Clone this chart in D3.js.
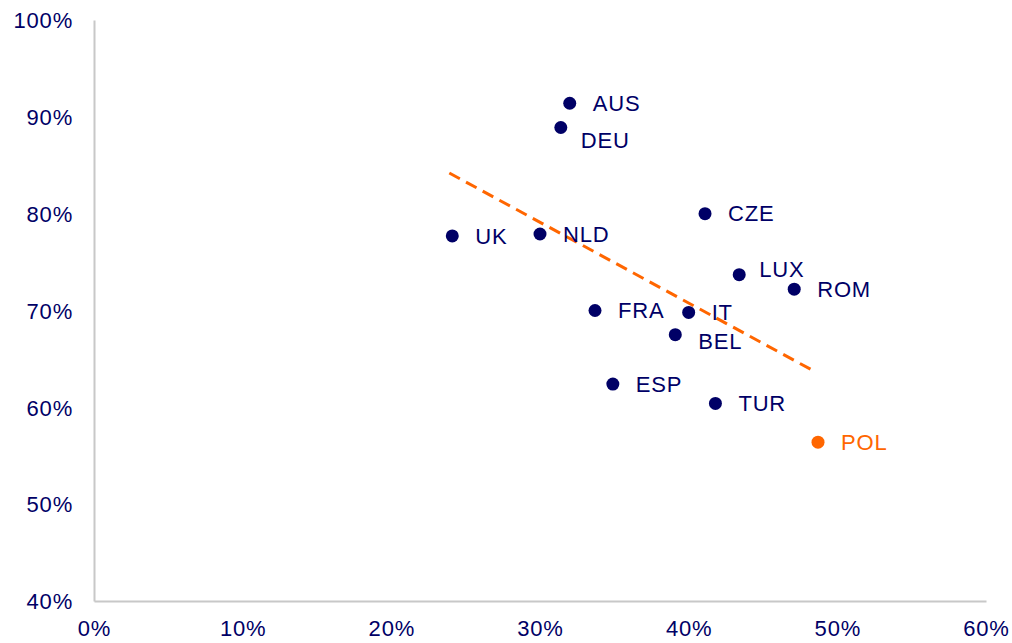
<!DOCTYPE html>
<html>
<head>
<meta charset="utf-8" />
<title>scatter</title>
<script src="https://cdn.jsdelivr.net/npm/d3@7"></script>
<style>
  body { margin: 0; background: #fff; overflow: hidden; }
  text { font-family: "Liberation Sans", Arial, sans-serif; }
</style>
</head>
<body>
<div id="chart"></div>
<script>
// countries, x and y values (shares, in %)
var countries = ["AUS", "DEU", "CZE", "UK", "NLD", "LUX", "ROM", "FRA", "IT", "BEL", "ESP", "TUR", "POL"];
var xValues = [32.0, 31.4, 41.1, 24.1, 30.0, 43.4, 47.1, 33.7, 40.0, 39.1, 34.9, 41.8, 48.7];
var yValues = [91.4, 88.9, 80.0, 77.7, 77.9, 73.7, 72.2, 70.0, 69.8, 67.5, 62.4, 60.4, 56.4];
var highlight = ["POL"];

// trend line end points
var trendX = [23.9, 48.6];
var trendY = [84.2, 63.6];

var xTicks = [0, 10, 20, 30, 40, 50, 60];
var yTicks = [40, 50, 60, 70, 80, 90, 100];

// label nudges (px) where the label is not simply to the right
var labelNudge = { DEU: [-3, 13], LUX: [-3, -5], BEL: [0, 7] };

var W = 1012, H = 643;
var navy = "#000066", orange = "#ff6600";

var svg = d3.select("#chart").append("svg")
    .attr("width", W).attr("height", H);

var x = d3.scaleLinear().domain([0, 60]).range([94, 986]);
var y = d3.scaleLinear().domain([40, 100]).range([601, 20]);

// axes (no tick marks, grey lines)
var xAxis = svg.append("g").attr("transform", "translate(0," + y(40) + ")")
    .call(d3.axisBottom(x).tickValues(xTicks).tickSize(0).tickPadding(19).tickFormat(function (d) { return d + "%"; }));
var yAxis = svg.append("g").attr("transform", "translate(" + x(0) + ",0)")
    .call(d3.axisLeft(y).tickValues(yTicks).tickSize(0).tickPadding(21).tickFormat(function (d) { return d + "%"; }));

[xAxis, yAxis].forEach(function (g) {
    g.select(".domain").attr("stroke", "#c8c8c8").attr("stroke-width", 2);
    g.selectAll("text").attr("fill", navy).style("font-size", "22px")
        .style("letter-spacing", "0.8px")
        .style("font-family", "'Liberation Sans', Arial, sans-serif");
});
yAxis.selectAll("text").attr("dy", "0.35em");

// trend line
svg.append("line")
    .attr("x1", x(trendX[0])).attr("y1", y(trendY[0]))
    .attr("x2", x(trendX[1])).attr("y2", y(trendY[1]))
    .attr("stroke", orange).attr("stroke-width", 3)
    .attr("stroke-dasharray", "12,7");

var pts = countries.map(function (c, i) {
    return { name: c, x: xValues[i], y: yValues[i] };
});

function col(d) { return highlight.indexOf(d.name) >= 0 ? orange : navy; }

svg.selectAll("circle.pt").data(pts).enter().append("circle")
    .attr("class", "pt")
    .attr("cx", function (d) { return x(d.x); })
    .attr("cy", function (d) { return y(d.y); })
    .attr("r", 6.5)
    .attr("fill", col);

svg.selectAll("text.lbl").data(pts).enter().append("text")
    .attr("class", "lbl")
    .attr("x", function (d) { return x(d.x) + 23 + (labelNudge[d.name] ? labelNudge[d.name][0] : 0); })
    .attr("y", function (d) { return y(d.y) + (labelNudge[d.name] ? labelNudge[d.name][1] : 0); })
    .attr("dy", "0.35em")
    .attr("fill", col)
    .style("font-size", "22px")
    .style("letter-spacing", "0.8px")
    .text(function (d) { return d.name; });
</script>
</body>
</html>
